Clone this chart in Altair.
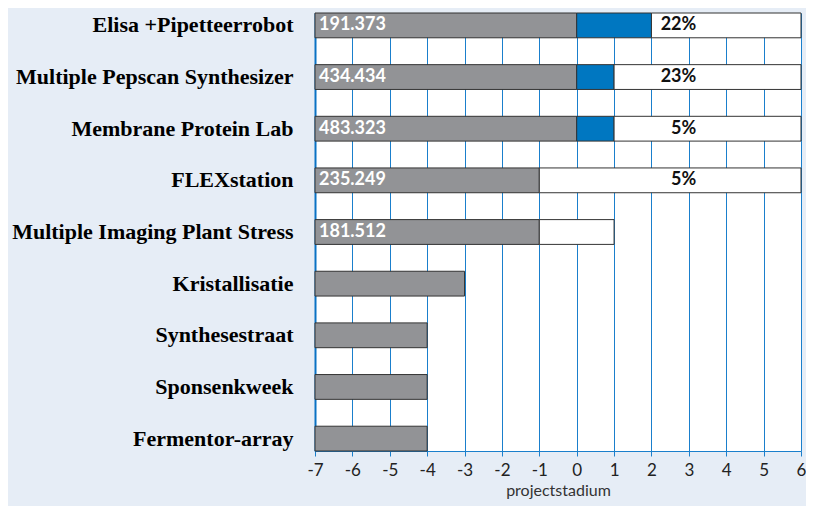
import altair as alt
import pandas as pd

projects = ["Elisa +Pipetteerrobot", "Multiple Pepscan Synthesizer", "Membrane Protein Lab",
            "FLEXstation", "Multiple Imaging Plant Stress", "Kristallisatie",
            "Synthesestraat", "Sponsenkweek", "Fermentor-array"]
gray_start = [-7, -7, -7, -7, -7, -7, -7, -7, -7]
gray_end = [0, 0, 0, -1, -1, -3, -4, -4, -4]
blue_end = [2, 1, 1, None, None, None, None, None, None]
white_end = [6, 6, 6, 6, 1, None, None, None, None]
value_labels = ["191.373", "434.434", "483.323", "235.249", "181.512", "", "", "", ""]
pct_labels = ["22%", "23%", "5%", "5%", "", "", "", "", ""]
ticks = list(range(-7, 7))

rows = []
for i, p in enumerate(projects):
    rows.append({"project": p, "seg": "grijs", "start": gray_start[i], "end": gray_end[i]})
    cur = gray_end[i]
    if blue_end[i] is not None:
        rows.append({"project": p, "seg": "blauw", "start": cur, "end": blue_end[i]})
        cur = blue_end[i]
    if white_end[i] is not None:
        rows.append({"project": p, "seg": "wit", "start": cur, "end": white_end[i]})
bars = pd.DataFrame(rows)
labels = pd.DataFrame({"project": projects, "value": value_labels, "pct": pct_labels})

BLUE = "#1a7fcc"

y_enc = alt.Y("project:N", sort=projects, title=None,
              scale=alt.Scale(paddingInner=0.52, paddingOuter=0),
              axis=alt.Axis(labelFont="Liberation Serif", labelFontWeight="bold",
                            labelFontSize=22, labelColor="#000000", labelPadding=22,
                            ticks=False, domain=True, domainColor="#0a72c4",
                            domainWidth=2, labelLimit=400))

x_scale = alt.Scale(domain=[-7, 6], nice=False, zero=False)

bar_layer = alt.Chart(bars).mark_bar(stroke="#333333", strokeWidth=1).encode(
    x=alt.X("start:Q", scale=x_scale, title="projectstadium",
            axis=alt.Axis(values=ticks, labelExpr="'' + datum.value",
                          labelOverlap=False, tickCount=14,
                          grid=True, gridColor=BLUE, gridWidth=1, gridOpacity=1,
                          domainColor=BLUE, tickColor=BLUE, tickSize=5,
                          labelFont="Lato", labelFontSize=17, labelColor="#222222",
                          labelPadding=6, labelFlush=False,
                          titleFont="Lato", titleFontSize=16, titleFontWeight="normal",
                          titleColor="#333333", titlePadding=4)),
    x2="end:Q",
    y=y_enc,
    color=alt.Color("seg:N", legend=None,
                    scale=alt.Scale(domain=["grijs", "blauw", "wit"],
                                    range=["#929396", "#0077c1", "#ffffff"])),
)

value_layer = alt.Chart(labels).mark_text(
    align="left", baseline="middle", dx=4, font="Lato", fontWeight="bold",
    fontSize=18, color="#ffffff").encode(
    x=alt.datum(-7, scale=x_scale),
    y=alt.Y("project:N", sort=projects),
    text="value:N",
)

pct_layer = alt.Chart(labels).mark_text(
    align="right", baseline="middle", font="Lato", fontWeight="bold",
    fontSize=18, color="#111111").encode(
    x=alt.datum(3.2, scale=x_scale),
    y=alt.Y("project:N", sort=projects),
    text="pct:N",
)

chart = alt.layer(bar_layer, value_layer, pct_layer).properties(
    width=486, height=438,
    padding={"left": 307, "top": 5, "right": 5, "bottom": 55},
    autosize="none",
).configure(background="#e6edf6").configure_view(fill="#ffffff", stroke=None)

chart.save("out.html", embed_options={"renderer": "svg", "actions": False})
